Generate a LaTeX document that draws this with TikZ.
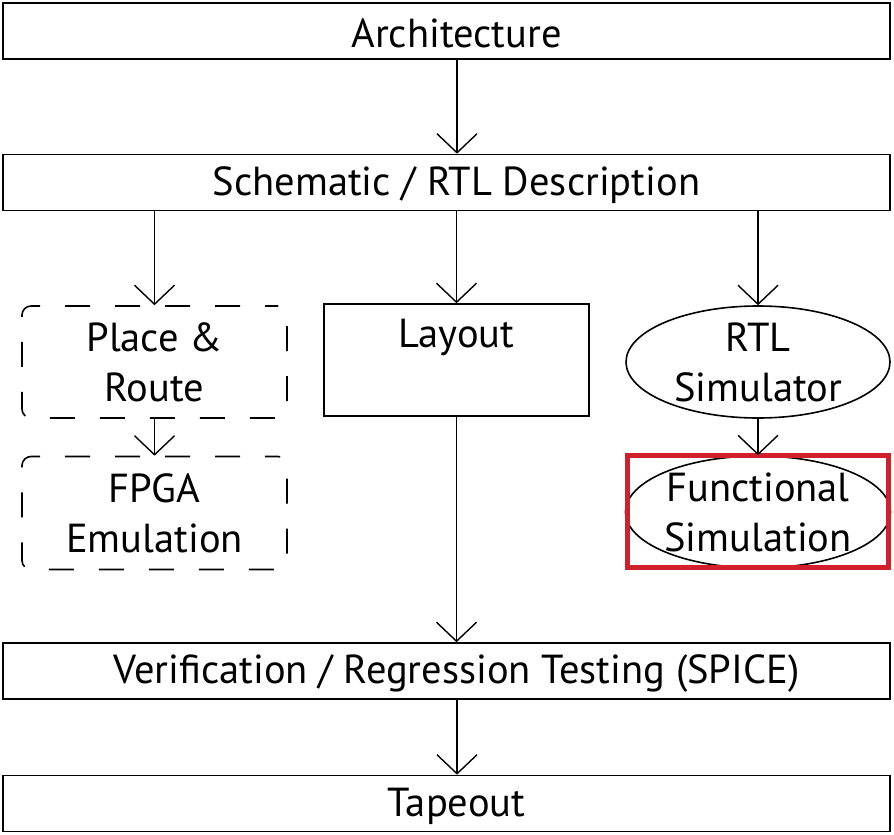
\documentclass[tikz,border=0pt]{standalone}
\usepackage{fontspec}
\setmainfont{PT Sans}
\usetikzlibrary{arrows.meta,shapes.geometric}
\definecolor{hlred}{RGB}{208,32,44}
\begin{document}
\begin{tikzpicture}[x=1pt,y=-1pt,
  every node/.style={font=\fontsize{40.5}{50}\selectfont, inner sep=0pt},
  wide/.style={draw, line width=1.6pt, minimum width=887pt, minimum height=56pt},
  midbox/.style={draw, line width=1.6pt, minimum width=265pt, minimum height=112pt},
  dashbox/.style={draw, line width=1.6pt, minimum width=265pt, minimum height=112pt, rounded corners=9pt, dash pattern=on 25pt off 25pt, dash phase=12pt, align=center},
  ell/.style={draw, ellipse, line width=1.6pt, minimum width=264pt, minimum height=112pt, align=center},
  flow/.style={line width=1.4pt, -{Straight Barb[length=19pt,width=40pt]}}
]
\useasboundingbox (0,0) rectangle (894,835);
\node[wide] (arch) at (446.5,31) {};
\node (archt) at (456.5,33) {Architecture};
\node[wide] (schem) at (446.5,182.5) {};
\node (schemt) at (456.5,185) {Schematic / RTL Description};
\node[dashbox] (pr) at (154.5,362) {Place \&\\Route};
\node[dashbox, minimum height=113pt] (fpga) at (154.5,513) {FPGA\\Emulation};
\node[midbox] (layout) at (456.5,360) {};
\node (layouttext) at (456.5,337) {Layout};
\node[ell] (rtl) at (758,362) {RTL\\Simulator};
\node[ell, minimum width=260pt, minimum height=110pt] (func) at (758,512) {Functional\\Simulation};
\draw[hlred, line width=5pt] (627.5,455.5) rectangle (888.5,567.5);
\node[wide] (verif) at (446.5,671) {};
\node (veriftext) at (456.5,674) {Verification / Regression Testing (SPICE)};
\node[wide] (tape) at (446.5,803.5) {};
\node (tapet) at (456.5,806) {Tapeout};
\draw[flow] (arch.south -| 457,0) -- (schem.north -| 457,0);
\draw[flow] (schem.south -| pr.north) -- (pr.north);
\draw[flow] (schem.south -| layout.north) -- (layout.north);
\draw[flow] (schem.south -| rtl.north) -- (rtl.north);
\draw[flow] (pr.south) -- (fpga.north);
\draw[flow] (rtl.south) -- (func.north);
\draw[flow] (layout.south) -- (verif.north -| layout.south);
\draw[flow] (verif.south -| 457,0) -- (tape.north -| 457,0);
\end{tikzpicture}
\end{document}
